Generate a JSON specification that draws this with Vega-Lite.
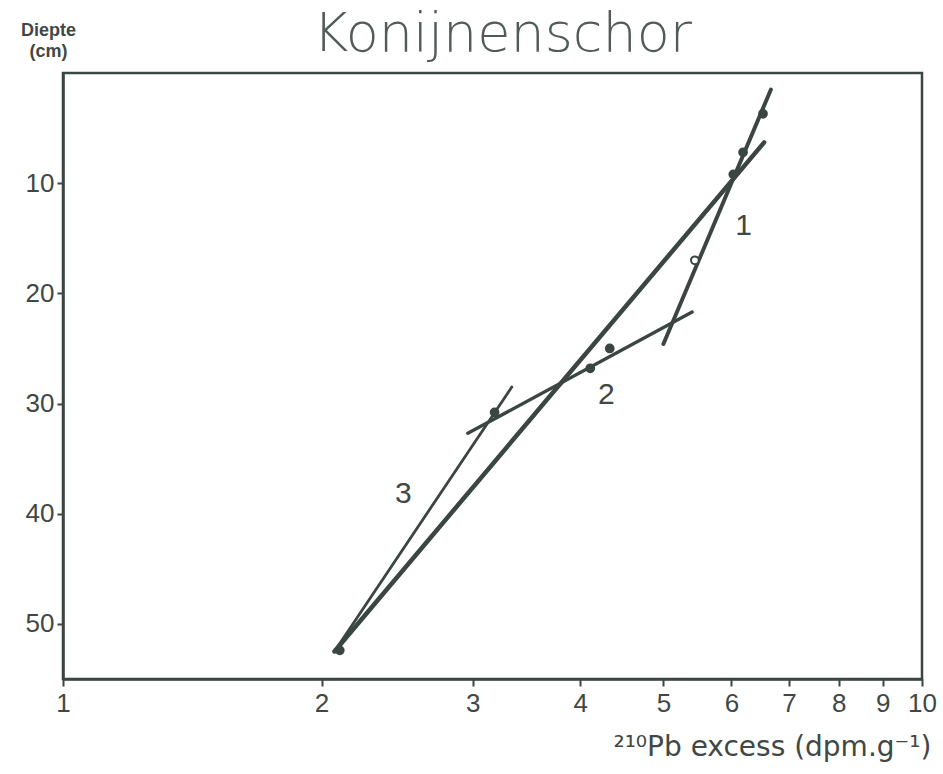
{
  "$schema": "https://vega.github.io/schema/vega-lite/v6.json",
  "width": 859,
  "height": 606,
  "autosize": "none",
  "padding": {"left": 63, "top": 73, "right": 21, "bottom": 95},
  "background": "white",
  "view": {"stroke": "#3b4642", "strokeWidth": 2.5},
  "title": {
    "text": "Konijnenschor",
    "font": "DejaVu Sans",
    "fontSize": 54,
    "fontWeight": 200,
    "color": "#525b58",
    "anchor": "middle",
    "dx": 10,
    "dy": 102,
    "baseline": "alphabetic",
    "offset": 18
  },
  "datasets": {
    "lijnen": [
      {"lijn": "totaal", "pb": 6.55, "diepte": 6.3},
      {"lijn": "totaal", "pb": 2.07, "diepte": 52.5},
      {"lijn": "1", "pb": 6.67, "diepte": 1.5},
      {"lijn": "1", "pb": 5.0, "diepte": 24.6},
      {"lijn": "2", "pb": 5.4, "diepte": 21.7},
      {"lijn": "2", "pb": 2.96, "diepte": 32.7},
      {"lijn": "3", "pb": 3.33, "diepte": 28.5},
      {"lijn": "3", "pb": 2.07, "diepte": 52.5}
    ],
    "metingen": [
      {"pb": 6.53, "diepte": 3.7, "symbool": "gevuld"},
      {"pb": 6.19, "diepte": 7.2, "symbool": "gevuld"},
      {"pb": 6.03, "diepte": 9.2, "symbool": "gevuld"},
      {"pb": 5.44, "diepte": 17.0, "symbool": "open"},
      {"pb": 4.33, "diepte": 25.0, "symbool": "gevuld"},
      {"pb": 4.11, "diepte": 26.8, "symbool": "gevuld"},
      {"pb": 3.18, "diepte": 30.8, "symbool": "gevuld"},
      {"pb": 2.1, "diepte": 52.4, "symbool": "gevuld"}
    ],
    "labels": [
      {"pb": 6.2, "diepte": 13.9, "tekst": "1"},
      {"pb": 4.29, "diepte": 29.2, "tekst": "2"},
      {"pb": 2.49, "diepte": 38.2, "tekst": "3"}
    ]
  },
  "encoding": {
    "x": {
      "field": "pb",
      "type": "quantitative",
      "scale": {"type": "log", "domain": [1, 10], "nice": false},
      "axis": {
        "title": "²¹⁰Pb excess (dpm.g⁻¹)",
        "values": [1, 2, 3, 4, 5, 6, 7, 8, 9, 10],
        "format": "d",
        "grid": false,
        "domainColor": "#3b4642",
        "domainWidth": 2.5,
        "tickColor": "#3b4642",
        "tickWidth": 2,
        "tickSize": 7,
        "labelFont": "Liberation Sans",
        "labelFontSize": 26,
        "labelColor": "#3f4845",
        "labelPadding": 4,
        "labelFlush": false,
        "labelOverlap": false,
        "titleFont": "DejaVu Sans",
        "titleFontSize": 28,
        "titleFontWeight": "normal",
        "titleColor": "#3f4845",
        "titleAnchor": "end",
        "titleAlign": "right",
        "titleX": 868,
        "titleY": 76,
        "titleBaseline": "alphabetic",
        "titleLimit": 600
      }
    },
    "y": {
      "field": "diepte",
      "type": "quantitative",
      "scale": {"domain": [0, 55], "reverse": true, "nice": false},
      "axis": {
        "title": ["Diepte", "(cm)"],
        "values": [10, 20, 30, 40, 50],
        "grid": false,
        "domainColor": "#3b4642",
        "domainWidth": 2.5,
        "tickColor": "#3b4642",
        "tickWidth": 2,
        "tickSize": 6,
        "labelFont": "Liberation Sans",
        "labelFontSize": 26,
        "labelColor": "#3f4845",
        "labelPadding": 3,
        "titleFont": "Liberation Sans",
        "titleFontSize": 18,
        "titleFontWeight": "bold",
        "titleColor": "#3f4845",
        "titleAngle": 0,
        "titleAlign": "center",
        "titleBaseline": "alphabetic",
        "titleLineHeight": 21,
        "titleX": -15,
        "titleY": -38
      }
    }
  },
  "layer": [
    {
      "data": {"name": "lijnen"},
      "mark": {"type": "line", "color": "#3b4642", "strokeCap": "round"},
      "encoding": {
        "detail": {"field": "lijn"},
        "strokeWidth": {
          "field": "lijn",
          "type": "nominal",
          "scale": {"domain": ["totaal", "1", "2", "3"], "range": [4.5, 2.8, 2.8, 2.8]},
          "legend": null
        }
      }
    },
    {
      "data": {"name": "metingen"},
      "mark": {"type": "point", "size": 60, "strokeWidth": 2, "color": "#3b4642", "opacity": 1},
      "encoding": {
        "fill": {
          "field": "symbool",
          "type": "nominal",
          "scale": {"domain": ["gevuld", "open"], "range": ["#3b4642", "white"]},
          "legend": null
        },
        "fillOpacity": {"value": 1}
      }
    },
    {
      "data": {"name": "labels"},
      "mark": {"type": "text", "font": "Liberation Sans", "fontSize": 30, "color": "#3f4845", "baseline": "middle", "align": "center"},
      "encoding": {"text": {"field": "tekst"}}
    }
  ]
}
